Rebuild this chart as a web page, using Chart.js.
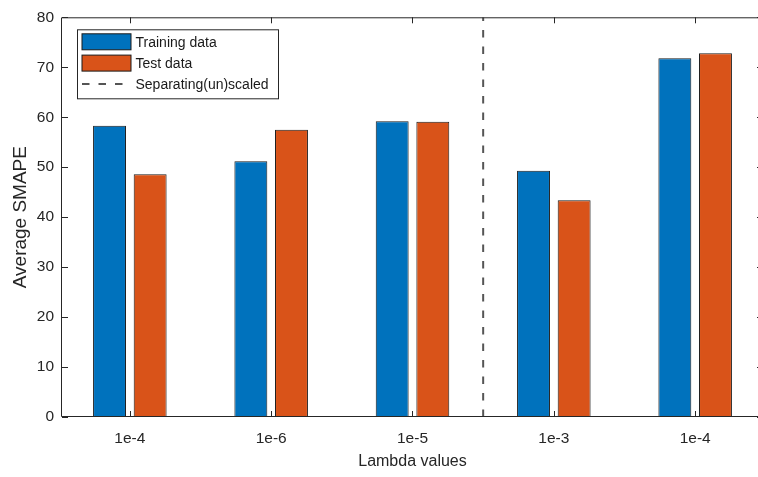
<!DOCTYPE html>
<html>
<head>
<meta charset="utf-8">
<script src="https://cdn.jsdelivr.net/npm/chart.js@4/dist/chart.umd.min.js"></script>
<style>
  html, body { margin: 0; padding: 0; background: #ffffff; overflow: hidden; }
  #wrap { width: 770px; height: 477px; }
</style>
</head>
<body>
<div id="wrap"><canvas id="chart" width="770" height="477"></canvas></div>
<script>
// Regularisation strengths tried, in plotting order
const categories = ['1e-4', '1e-6', '1e-5', '1e-3', '1e-4'];
// Average SMAPE per lambda
const trainingSmape = [58.3, 51.2, 59.2, 49.3, 71.8];
const testSmape = [48.6, 57.5, 59.1, 43.4, 72.8];
// Boundary between the unscaled and scaled runs (between 3rd and 4th group)
const separatorAt = 3.5;
const yTicks = [0, 10, 20, 30, 40, 50, 60, 70, 80];

const AXIS = '#262626';
const FONT = "'Liberation Sans', Arial, Helvetica, sans-serif";

const positions = categories.map((_, i) => i + 1);

// Box around the axes with MATLAB-style inward tick marks
const axesBox = {
  id: 'axesBox',
  afterDatasetsDraw(chart) {
    const { ctx, chartArea: a, scales: { x, y } } = chart;
    const L = 6;
    ctx.save();
    ctx.strokeStyle = AXIS;
    ctx.lineWidth = 1;
    ctx.beginPath();
    ctx.rect(a.left - 0.5, a.top + 0.5, a.right - a.left, a.bottom - a.top - 1);
    x.ticks.forEach(t => {
      const px = Math.round(x.getPixelForValue(t.value)) + 0.5;
      ctx.moveTo(px, a.bottom); ctx.lineTo(px, a.bottom - L);
      ctx.moveTo(px, a.top); ctx.lineTo(px, a.top + L);
    });
    y.ticks.forEach(t => {
      const py = Math.round(y.getPixelForValue(t.value)) + 0.5;
      ctx.moveTo(a.left, py); ctx.lineTo(a.left + L, py);
      ctx.moveTo(a.right, py); ctx.lineTo(a.right - L, py);
    });
    ctx.stroke();
    ctx.restore();
  }
};

// Boxed legend inside the top-left of the plot
const boxedLegend = {
  id: 'boxedLegend',
  afterDraw(chart) {
    const { ctx, chartArea: a } = chart;
    const x0 = a.left + 15.5, y0 = a.top + 12.5, w = 201, h = 69;
    ctx.save();
    ctx.fillStyle = '#ffffff';
    ctx.fillRect(x0, y0, w, h);
    ctx.strokeStyle = AXIS;
    ctx.lineWidth = 1;
    ctx.strokeRect(x0, y0, w, h);
    ctx.font = '14px ' + FONT;
    ctx.textBaseline = 'middle';
    chart.data.datasets.forEach((ds, i) => {
      const cy = y0 + 12 + i * 21.3;
      const sx = x0 + 4.5, sw = 49;
      if (ds.type === 'line') {
        ctx.strokeStyle = ds.borderColor;
        ctx.lineWidth = ds.borderWidth;
        ctx.setLineDash(ds.borderDash);
        ctx.beginPath();
        ctx.moveTo(sx, Math.round(cy));
        ctx.lineTo(sx + sw, Math.round(cy));
        ctx.stroke();
        ctx.setLineDash([]);
      } else {
        ctx.fillStyle = ds.backgroundColor;
        ctx.fillRect(sx, cy - 8, sw, 16);
        ctx.strokeStyle = ds.borderColor;
        ctx.lineWidth = 1;
        ctx.strokeRect(sx, cy - 8, sw, 16);
      }
      ctx.fillStyle = '#1a1a1a';
      ctx.fillText(ds.label, x0 + 58, cy + 1);
    });
    ctx.restore();
  }
};

new Chart(document.getElementById('chart'), {
  type: 'bar',
  data: {
    datasets: [
      {
        label: 'Training data',
        data: trainingSmape.map((v, i) => ({ x: positions[i], y: v })),
        backgroundColor: '#0072BD',
        borderColor: '#1b1b1b',
        borderWidth: 1,
        borderSkipped: false,
        categoryPercentage: 0.575,
        barPercentage: 0.81,
        order: 1
      },
      {
        label: 'Test data',
        data: testSmape.map((v, i) => ({ x: positions[i], y: v })),
        backgroundColor: '#D95319',
        borderColor: '#1b1b1b',
        borderWidth: 1,
        borderSkipped: false,
        categoryPercentage: 0.575,
        barPercentage: 0.81,
        order: 1
      },
      {
        type: 'line',
        label: 'Separating(un)scaled',
        data: [{ x: separatorAt, y: yTicks[0] }, { x: separatorAt, y: yTicks[yTicks.length - 1] }],
        borderColor: '#555555',
        borderWidth: 2,
        borderDash: [7.5, 9],
        pointRadius: 0,
        fill: false,
        order: 0
      }
    ]
  },
  options: {
    responsive: false,
    animation: false,
    layout: { padding: { top: 16, right: 7, left: 0, bottom: 0 } },
    plugins: { legend: { display: false }, tooltip: { enabled: false } },
    scales: {
      x: {
        type: 'linear',
        min: 0.52,
        max: 5.48,
        offset: false,
        grid: { display: false, drawTicks: false },
        border: { display: false },
        afterBuildTicks: s => { s.ticks = positions.map(p => ({ value: p })); },
        afterFit: s => { s.height = 60; },
        ticks: {
          padding: 12,
          color: AXIS,
          maxRotation: 0,
          autoSkip: false,
          font: { family: FONT, size: 15.5 },
          callback: v => categories[v - 1]
        },
        title: {
          display: true,
          text: 'Lambda values',
          color: AXIS,
          font: { family: FONT, size: 16 },
          padding: { top: 0, bottom: 6 }
        }
      },
      y: {
        min: yTicks[0],
        max: yTicks[yTicks.length - 1],
        grid: { display: false, drawTicks: false },
        border: { display: false },
        afterBuildTicks: s => { s.ticks = yTicks.map(v => ({ value: v })); },
        afterFit: s => { s.width = 62; },
        ticks: {
          padding: 8,
          color: AXIS,
          font: { family: FONT, size: 15.5 }
        },
        title: {
          display: true,
          text: 'Average SMAPE',
          color: AXIS,
          font: { family: FONT, size: 19 },
          padding: { top: 9, bottom: 0 }
        }
      }
    }
  },
  plugins: [axesBox, boxedLegend]
});
</script>
</body>
</html>
